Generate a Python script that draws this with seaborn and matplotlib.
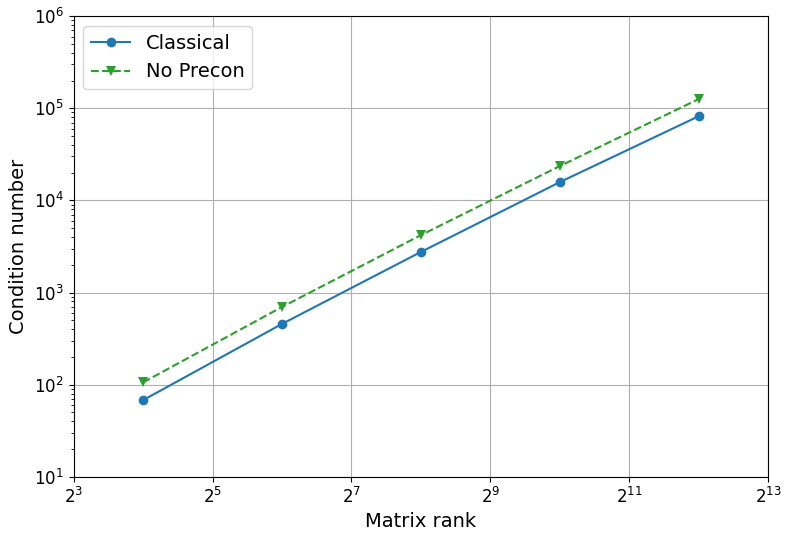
import numpy as np
import pandas as pd
import matplotlib
matplotlib.use("Agg")
import matplotlib.pyplot as plt
import seaborn as sns

# data
matrix_rank = [16, 64, 256, 1024, 4096]
classical = [68, 457, 2760, 15800, 82000]
no_precon = [106, 698, 4200, 23600, 126000]

df = pd.DataFrame({
    "rank": matrix_rank * 2,
    "cond": classical + no_precon,
    "method": ["Classical"] * 5 + ["No Precon"] * 5,
})

fig, ax = plt.subplots(figsize=(7.92, 5.37), dpi=100)

sns.lineplot(data=df[df.method == "Classical"], x="rank", y="cond", ax=ax,
             color="#1f77b4", marker="o", markersize=7, markeredgewidth=0,
             linestyle="-", label="Classical")
sns.lineplot(data=df[df.method == "No Precon"], x="rank", y="cond", ax=ax,
             color="#2ca02c", marker="v", markersize=7, markeredgewidth=0,
             linestyle="--", label="No Precon")

ax.set_xscale("log", base=2)
ax.set_yscale("log")
ax.set_xlim(2**3, 2**13)
ax.set_ylim(1e1, 1e6)
ax.set_xticks([2**k for k in range(3, 14, 2)])
ax.set_xticks([], minor=True)
ax.grid(True, which="major", color="#b0b0b0", linewidth=0.8)
ax.tick_params(labelsize=12)

ax.set_xlabel("Matrix rank", fontsize=14)
ax.set_ylabel("Condition number", fontsize=14)
ax.legend(loc="upper left", fontsize=14)

plt.subplots_adjust(left=0.093, right=0.97, top=0.970, bottom=0.112)
plt.savefig("out.png", dpi=100)
